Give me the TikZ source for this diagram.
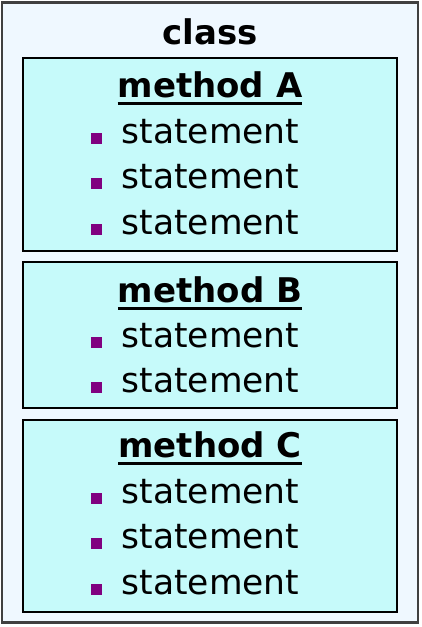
\documentclass[tikz,border=0pt]{standalone}
\usepackage{fontspec}
\setmainfont{DejaVu Sans}
\usepackage{tikz}
\usetikzlibrary{positioning}
\definecolor{classfill}{RGB}{239,248,255}
\definecolor{methodfill}{RGB}{198,250,250}
\definecolor{bulletpurple}{RGB}{128,0,128}
\newcommand\headul[1]{\setbox0\hbox{#1}\rlap{\rule[-8pt]{\wd0}{3pt}}\box0}

\begin{document}
\begin{tikzpicture}[x=1pt,y=-1pt,inner sep=0pt,
  classbox/.style={draw=black!75,line width=2.8pt,fill=classfill,minimum width=416pt,minimum height=620pt},
  methodbox/.style={draw=black,line width=2.8pt,fill=methodfill,minimum width=374pt},
  heading/.style={anchor=base,font=\fontsize{34}{40}\selectfont\bfseries},
  stmt/.style={anchor=base west,font=\fontsize{34.5}{40}\selectfont},
  bul/.style={fill=bulletpurple,minimum size=11pt}]
  \useasboundingbox (0,0) rectangle (421,627);
  \node[classbox] (cls) at (210,312.5) {};
  \node[heading] (clsname) at (210,44) {class};
  % method A
  \node[methodbox,minimum height=193pt] (boxA) at (210,154.5) {};
  \node[heading] (headA) at (210,97) {\headul{method A}};
  \node[stmt] (a1) at (121.5,143) {statement};
  \node[stmt] (a2) at (121.5,188.5) {statement};
  \node[stmt] (a3) at (121.5,234) {statement};
  \node[bul] (a1b) at (96.5,138) {};
  \node[bul] (a2b) at (96.5,183.5) {};
  \node[bul] (a3b) at (96.5,229) {};
  % method B
  \node[methodbox,minimum height=146pt] (boxB) at (210,335) {};
  \node[heading] (headB) at (210,302) {\headul{method B}};
  \node[stmt] (b1) at (121.5,347) {statement};
  \node[stmt] (b2) at (121.5,392) {statement};
  \node[bul] (b1b) at (96.5,342) {};
  \node[bul] (b2b) at (96.5,387) {};
  % method C
  \node[methodbox,minimum height=192pt] (boxC) at (210,516) {};
  \node[heading] (headC) at (210,457) {\headul{method C}};
  \node[stmt] (c1) at (121.5,503) {statement};
  \node[stmt] (c2) at (121.5,548.5) {statement};
  \node[stmt] (c3) at (121.5,594) {statement};
  \node[bul] (c1b) at (96.5,498) {};
  \node[bul] (c2b) at (96.5,543.5) {};
  \node[bul] (c3b) at (96.5,589) {};
\end{tikzpicture}
\end{document}
